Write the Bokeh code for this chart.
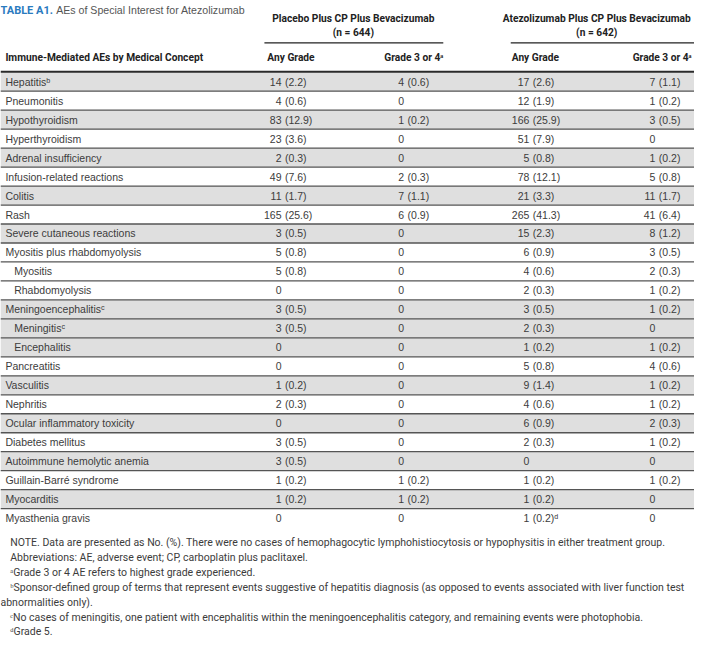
from bokeh.plotting import figure
from bokeh.models import Range1d, ColumnDataSource
from bokeh.core.properties import value
from bokeh.embed import file_html
from bokeh.resources import INLINE

# ---------------- data ----------------
title_tag = "TABLE A1."
title_text = "AEs of Special Interest for Atezolizumab"
group_labels = ["Placebo Plus CP Plus Bevacizumab", "Atezolizumab Plus CP Plus Bevacizumab"]
group_n = ["(n = 644)", "(n = 642)"]
col_header_first = "Immune-Mediated AEs by Medical Concept"
col_headers = ["Any Grade", "Grade 3 or 4\u1d43", "Any Grade", "Grade 3 or 4\u1d43"]

concepts = ["Hepatitis", "Pneumonitis", "Hypothyroidism", "Hyperthyroidism",
            "Adrenal insufficiency", "Infusion-related reactions", "Colitis", "Rash",
            "Severe cutaneous reactions", "Myositis plus rhabdomyolysis", "Myositis",
            "Rhabdomyolysis", "Meningoencephalitis", "Meningitis", "Encephalitis",
            "Pancreatitis", "Vasculitis", "Nephritis", "Ocular inflammatory toxicity",
            "Diabetes mellitus", "Autoimmune hemolytic anemia", "Guillain-Barré syndrome",
            "Myocarditis", "Myasthenia gravis"]
concept_notes = ["\u1d47", "", "", "", "", "", "", "", "", "", "", "", "\u1d9c", "\u1d9c",
                 "", "", "", "", "", "", "", "", "", ""]
sub_row = [0, 0, 0, 0, 0, 0, 0, 0, 0, 0, 1, 1, 0, 1, 1, 0, 0, 0, 0, 0, 0, 0, 0, 0]
shaded = [1, 0, 1, 0, 1, 0, 1, 0, 1, 0, 0, 0, 1, 1, 1, 0, 1, 0, 1, 0, 1, 0, 1, 0]

placebo_any_n = [14, 4, 83, 23, 2, 49, 11, 165, 3, 5, 5, 0, 3, 3, 0, 0, 1, 2, 0, 3, 3, 1, 1, 0]
placebo_any_pct = [2.2, 0.6, 12.9, 3.6, 0.3, 7.6, 1.7, 25.6, 0.5, 0.8, 0.8, None, 0.5, 0.5,
                   None, None, 0.2, 0.3, None, 0.5, 0.5, 0.2, 0.2, None]
placebo_g34_n = [4, 0, 1, 0, 0, 2, 7, 6, 0, 0, 0, 0, 0, 0, 0, 0, 0, 0, 0, 0, 0, 1, 1, 0]
placebo_g34_pct = [0.6, None, 0.2, None, None, 0.3, 1.1, 0.9, None, None, None, None, None,
                   None, None, None, None, None, None, None, None, 0.2, 0.2, None]
atezo_any_n = [17, 12, 166, 51, 5, 78, 21, 265, 15, 6, 4, 2, 3, 2, 1, 5, 9, 4, 6, 2, 0, 1, 1, 1]
atezo_any_pct = [2.6, 1.9, 25.9, 7.9, 0.8, 12.1, 3.3, 41.3, 2.3, 0.9, 0.6, 0.3, 0.5, 0.3,
                 0.2, 0.8, 1.4, 0.6, 0.9, 0.3, None, 0.2, 0.2, 0.2]
atezo_any_notes = [""] * 23 + ["\u1d48"]
atezo_g34_n = [7, 1, 3, 0, 1, 5, 11, 41, 8, 3, 2, 1, 1, 0, 1, 4, 1, 1, 2, 1, 0, 1, 0, 0]
atezo_g34_pct = [1.1, 0.2, 0.5, None, 0.2, 0.8, 1.7, 6.4, 1.2, 0.5, 0.3, 0.2, 0.2, None,
                 0.2, 0.6, 0.2, 0.2, 0.3, 0.2, None, 0.2, None, None]

footnotes = [
    "NOTE. Data are presented as No. (%). There were no cases of hemophagocytic lymphohistiocytosis or hypophysitis in either treatment group.",
    "Abbreviations: AE, adverse event; CP, carboplatin plus paclitaxel.",
    "\u1d43Grade 3 or 4 AE refers to highest grade experienced.",
    "\u1d47Sponsor-defined group of terms that represent events suggestive of hepatitis diagnosis (as opposed to events associated with liver function test",
    "abnormalities only).",
    "\u1d9cNo cases of meningitis, one patient with encephalitis within the meningoencephalitis category, and remaining events were photophobia.",
    "\u1d48Grade 5.",
]
footnote_indent = [1, 1, 1, 1, 0, 1, 1]

# ---------------- layout ----------------
BODY = "Liberation Sans"
HEAD = "Roboto"
TXT = "#3c3c3c"
W, H = 710, 655

p = figure(width=694, height=639, x_range=Range1d(0, W), y_range=Range1d(H, 0),
           output_backend="svg", toolbar_location=None, min_border=0,
           x_axis_location=None, y_axis_location=None)
p.grid.visible = False
p.outline_line_color = None
p.background_fill_color = "white"
p.border_fill_color = "white"

top0 = 73.5
rh = 19.45
n = len(concepts)
row_top = [top0 + rh * i for i in range(n)]
row_mid = [t + rh / 2 for t in row_top]

# shading
sh_idx = [i for i in range(n) if shaded[i]]
p.quad(left=0, right=W, top=[row_top[i] for i in sh_idx],
       bottom=[row_top[i] + rh for i in sh_idx], fill_color="#dfdfdf", line_color=None)

# separators
seps = [row_top[i] for i in range(1, n)]
p.segment(x0=0, x1=W, y0=seps, y1=seps, line_color="#555555", line_width=1.3)
p.segment(x0=[0], x1=[W], y0=[73], y1=[73], line_color="#2a2a2a", line_width=2)

# group underlines
p.segment(x0=[270, 522], x1=[453, W], y0=[43.5, 43.5], y1=[43.5, 43.5],
          line_color="#222222", line_width=1.2)

# title
p.text(x=[0], y=[10], text=[title_tag], text_font=value(HEAD), text_font_style="bold",
       text_font_size="11px", text_color="#2a7bbf", text_baseline="middle")
p.text(x=[57], y=[10], text=[title_text], text_font=value(BODY),
       text_font_size="10.6px", text_color="#555555", text_baseline="middle")

# group headers
p.text(x=[361, 610], y=[18, 18], text=group_labels, text_font=value(HEAD),
       text_font_style="bold", text_font_size="10.2px", text_color="#222222",
       text_align="center", text_baseline="middle")
p.text(x=[361, 610], y=[33, 33], text=group_n, text_font=value(HEAD),
       text_font_style="bold", text_font_size="10.2px", text_color="#222222",
       text_align="center", text_baseline="middle")

# column headers
p.text(x=[5, 273, 453, 523, 707], y=[58] * 5, text=[col_header_first] + col_headers,
       text_align=["left", "left", "right", "left", "right"],
       text_font=value(HEAD), text_font_style="bold", text_font_size="10.2px",
       text_color="#222222", text_baseline="middle")

# concept labels
src_lab = ColumnDataSource(dict(
    x=[14 if s else 5 for s in sub_row], y=row_mid,
    t=[c + nt for c, nt in zip(concepts, concept_notes)]))
p.text(x="x", y="y", text="t", source=src_lab, text_font=value(BODY),
       text_font_size="10.5px", text_color=TXT, text_baseline="middle")


def fmt_pct(v, notes=None):
    out = []
    for i, x in enumerate(v):
        s = "" if x is None else "(%.1f)" % x
        if notes:
            s += notes[i]
        out.append(s)
    return out


columns = [
    (placebo_any_n, fmt_pct(placebo_any_pct), 287.5),
    (placebo_g34_n, fmt_pct(placebo_g34_pct), 413),
    (atezo_any_n, fmt_pct(atezo_any_pct, atezo_any_notes), 541),
    (atezo_g34_n, fmt_pct(atezo_g34_pct), 670),
]
for counts, pcts, xa in columns:
    src = ColumnDataSource(dict(y=row_mid, c=[str(c) for c in counts], pc=pcts))
    p.text(x=xa, y="y", text="c", source=src, text_font=value(BODY),
           text_font_size="10.5px", text_color=TXT, text_baseline="middle",
           text_align="right")
    p.text(x=xa + 3.5, y="y", text="pc", source=src, text_font=value(BODY),
           text_font_size="10.5px", text_color=TXT, text_baseline="middle",
           text_align="left")

# footnotes
fy = [556 + 15.2 * i for i in range(len(footnotes))]
p.text(x=[10 if f else 0 for f in footnote_indent], y=fy, text=footnotes,
       text_font=value(HEAD), text_font_size="10.5px", text_color="#3c3c3c",
       text_baseline="middle")

open("out.html", "w").write(file_html(p, INLINE))
